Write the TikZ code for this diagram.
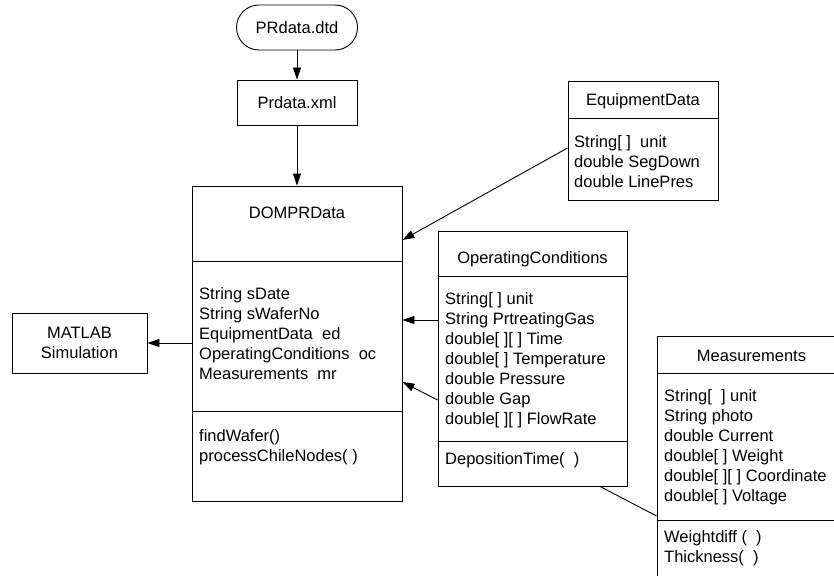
\documentclass[tikz,border=0pt]{standalone}
\usepackage{fontspec}
\setmainfont{Liberation Sans}
\usetikzlibrary{arrows.meta}
\begin{document}
\begin{tikzpicture}[x=1pt,y=-1pt,
  font=\fontsize{16.5}{20}\selectfont,
  box/.style={draw,line width=0.9pt,rectangle,inner sep=0pt},
  txt/.style={inner sep=0pt,anchor=base west},
  ttl/.style={inner sep=0pt,anchor=base},
  arr/.style={line width=0.9pt,-{Triangle[length=12pt,width=8pt]}},
  link/.style={line width=0.9pt}]
\clip (0,0) rectangle (834,575);

% input files
\node[box,rounded corners=22.5pt,minimum width=121pt,minimum height=45pt]
  (dtd) at (297,27.5) {PRdata.dtd};
\node[box,minimum width=120pt,minimum height=45pt] (xml) at (297,102.5) {Prdata.xml};

% simulation target
\node[box,align=center,minimum width=135pt,minimum height=60pt]
  (mat) at (79.5,343) {MATLAB\\Simulation};

% class DOMPRData
\node[box,minimum width=210pt,minimum height=315pt] (dom) at (297,343.5) {};
\draw[link] (dom.west |- 0,261) -- (dom.east |- 0,261);
\draw[link] (dom.west |- 0,411) -- (dom.east |- 0,411);
\node[ttl] (dom-t) at (297,218) {DOMPRData};
\foreach \t [count=\i] in {String sDate, String sWaferNo, EquipmentData\ \ ed,
    OperatingConditions\ \ oc, Measurements\ \ mr}
  \node[txt] (dom-a\i) at (199,{299+20*(\i-1)}) {\t};
\node[txt] (dom-m1) at (199,441) {findWafer()};
\node[txt] (dom-m2) at (199,461) {processChileNodes( )};

% class EquipmentData
\node[box,minimum width=150pt,minimum height=119pt] (eq) at (643,140.5) {};
\draw[link] (eq.west |- 0,118) -- (eq.east |- 0,118);
\node[ttl] (eq-t) at (643,106) {EquipmentData};
\foreach \t [count=\i] in {String[ ]\ \ unit, double SegDown, double LinePres}
  \node[txt] (eq-a\i) at (574,{147+20*(\i-1)}) {\t};

% class OperatingConditions
\node[box,minimum width=189pt,minimum height=255pt] (oc) at (532.5,358.5) {};
\draw[link] (oc.west |- 0,276) -- (oc.east |- 0,276);
\draw[link] (oc.west |- 0,441) -- (oc.east |- 0,441);
\node[ttl] (oc-t) at (532.5,263) {OperatingConditions};
\foreach \t [count=\i] in {String[ ] unit, String PrtreatingGas, double[ ][ ] Time,
    double[ ] Temperature, double Pressure, double Gap, double[ ][ ] FlowRate}
  \node[txt] (oc-a\i) at (445,{304+20*(\i-1)}) {\t};
\node[txt] (oc-m1) at (445,464) {DepositionTime(\ \ )};

% class Measurements
\node[box,minimum width=189pt,minimum height=254pt] (meas) at (751.5,463) {};
\draw[link] (meas.west |- 0,373) -- (meas.east |- 0,373);
\draw[link] (meas.west |- 0,520) -- (meas.east |- 0,520);
\node[ttl] (meas-t) at (751.5,361) {Measurements};
\foreach \t [count=\i] in {String[\ \ ] unit, String photo, double Current,
    double[ ] Weight, double[ ][ ] Coordinate, double[ ] Voltage}
  \node[txt] (meas-a\i) at (664,{401+20*(\i-1)}) {\t};
\node[txt] (meas-m1) at (664,542) {Weightdiff (\ \ )};
\node[txt] (meas-m2) at (664,562) {Thickness(\ \ )};

% connectors
\draw[arr] (dtd) -- (xml);
\draw[arr] (xml) -- (dom);
\draw[arr] (dom.west |- mat.east) -- (mat.east);
\draw[arr] (eq.west |- 0,148) -- (dom.east |- 0,240);
\draw[arr] (oc.west |- 0,320) -- (dom.east |- 0,320);
\draw[arr] (oc.west |- 0,400) -- (dom.east |- 0,382);
\draw[link] (oc.south -| 600,0) -- (meas.west |- 0,516);
\end{tikzpicture}
\end{document}
